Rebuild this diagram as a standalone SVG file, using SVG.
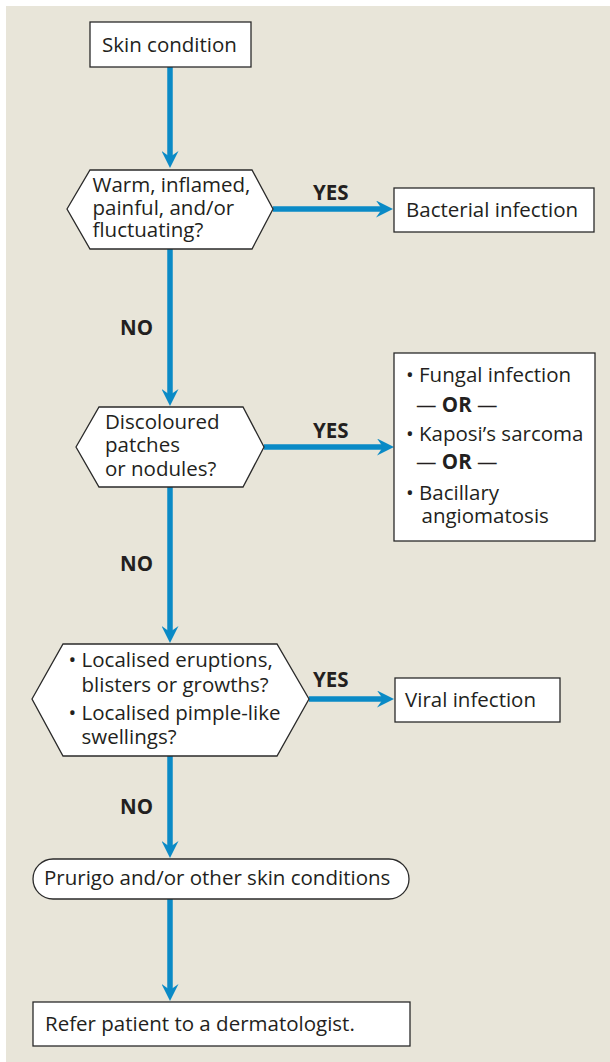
<svg xmlns="http://www.w3.org/2000/svg" width="610" height="1062" viewBox="0 0 610 1062">
<style>
.bg{fill:#E8E5D9}
.node{fill:#FFFFFF;stroke:#2A2A2A;stroke-width:1.3}
.t{font-family:"Open Sans","Liberation Sans",sans-serif;font-size:20.5px;fill:#231F20}
.b{font-weight:bold}
.edge{fill:none;stroke:#0A8AC6;stroke-width:5.5}
</style>
<defs>
<marker id="ah" viewBox="0 0 17 17" refX="6" refY="8.5" markerWidth="17" markerHeight="17" markerUnits="userSpaceOnUse" orient="auto">
<path d="M0,0 L17,8.5 L0,17 L6,8.5 Z" fill="#0A8AC6"/>
</marker>
</defs>
<rect class="bg" x="6" y="6" width="604" height="1056"/>
<g id="connectors">
<line class="edge" x1="170" y1="67" x2="170" y2="157" marker-end="url(#ah)"/>
<line class="edge" x1="170" y1="249" x2="170" y2="395" marker-end="url(#ah)"/>
<line class="edge" x1="170" y1="487" x2="170" y2="632" marker-end="url(#ah)"/>
<line class="edge" x1="170" y1="756" x2="170" y2="847" marker-end="url(#ah)"/>
<line class="edge" x1="170" y1="899" x2="170" y2="990" marker-end="url(#ah)"/>
<line class="edge" x1="273" y1="209" x2="382" y2="209" marker-end="url(#ah)"/>
<line class="edge" x1="264" y1="447" x2="383" y2="447" marker-end="url(#ah)"/>
<line class="edge" x1="309" y1="699" x2="383" y2="699" marker-end="url(#ah)"/>
<text class="t b" x="313" y="200">YES</text>
<text class="t b" x="120" y="335">NO</text>
<text class="t b" x="313" y="438">YES</text>
<text class="t b" x="120" y="571">NO</text>
<text class="t b" x="313" y="687">YES</text>
<text class="t b" x="120" y="814">NO</text>
</g>
<g id="skin-condition">
<rect class="node" x="90" y="22" width="161" height="45"/>
<text class="t" x="102" y="52">Skin condition</text>
</g>
<g id="q-warm">
<polygon class="node" points="67,209 90,170 252,170 273,209 252,249 90,249"/>
<text class="t"><tspan x="92.5" y="192">Warm, inflamed,</tspan><tspan x="92.5" y="214.5">painful, and/or</tspan><tspan x="92.5" y="237">fluctuating?</tspan></text>
</g>
<g id="bacterial">
<rect class="node" x="394" y="188" width="200" height="44"/>
<text class="t" x="406" y="217">Bacterial infection</text>
</g>
<g id="q-discoloured">
<polygon class="node" points="76,447 99,407 243,407 264,447 243,487 99,487"/>
<text class="t"><tspan x="105" y="429">Discoloured</tspan><tspan x="105" y="452">patches</tspan><tspan x="105" y="475.5">or nodules?</tspan></text>
</g>
<g id="fungal-kaposi-bacillary">
<rect class="node" x="394" y="353" width="201" height="188"/>
<text class="t"><tspan x="406" y="381.5">• Fungal infection</tspan><tspan x="416" y="411.5">— </tspan><tspan class="b">OR</tspan><tspan> —</tspan><tspan x="406" y="440.5">• Kaposi’s sarcoma</tspan><tspan x="416" y="469">— </tspan><tspan class="b">OR</tspan><tspan> —</tspan><tspan x="406" y="500">• Bacillary</tspan><tspan x="421.5" y="523">angiomatosis</tspan></text>
</g>
<g id="q-localised">
<polygon class="node" points="32,699 63,644 277,644 309,699 277,756 63,756"/>
<text class="t"><tspan x="68.5" y="667">• Localised eruptions,</tspan><tspan x="81.5" y="691.5">blisters or growths?</tspan><tspan x="68.5" y="720">• Localised pimple-like</tspan><tspan x="81.5" y="743.5">swellings?</tspan></text>
</g>
<g id="viral">
<rect class="node" x="395" y="678" width="165" height="44"/>
<text class="t" x="405" y="707">Viral infection</text>
</g>
<g id="prurigo">
<rect class="node" x="33" y="859" width="376" height="40" rx="20" ry="20"/>
<text class="t" x="44" y="885">Prurigo and/or other skin conditions</text>
</g>
<g id="refer">
<rect class="node" x="33" y="1002" width="377" height="44"/>
<text class="t" x="45" y="1031">Refer patient to a dermatologist.</text>
</g>
</svg>
